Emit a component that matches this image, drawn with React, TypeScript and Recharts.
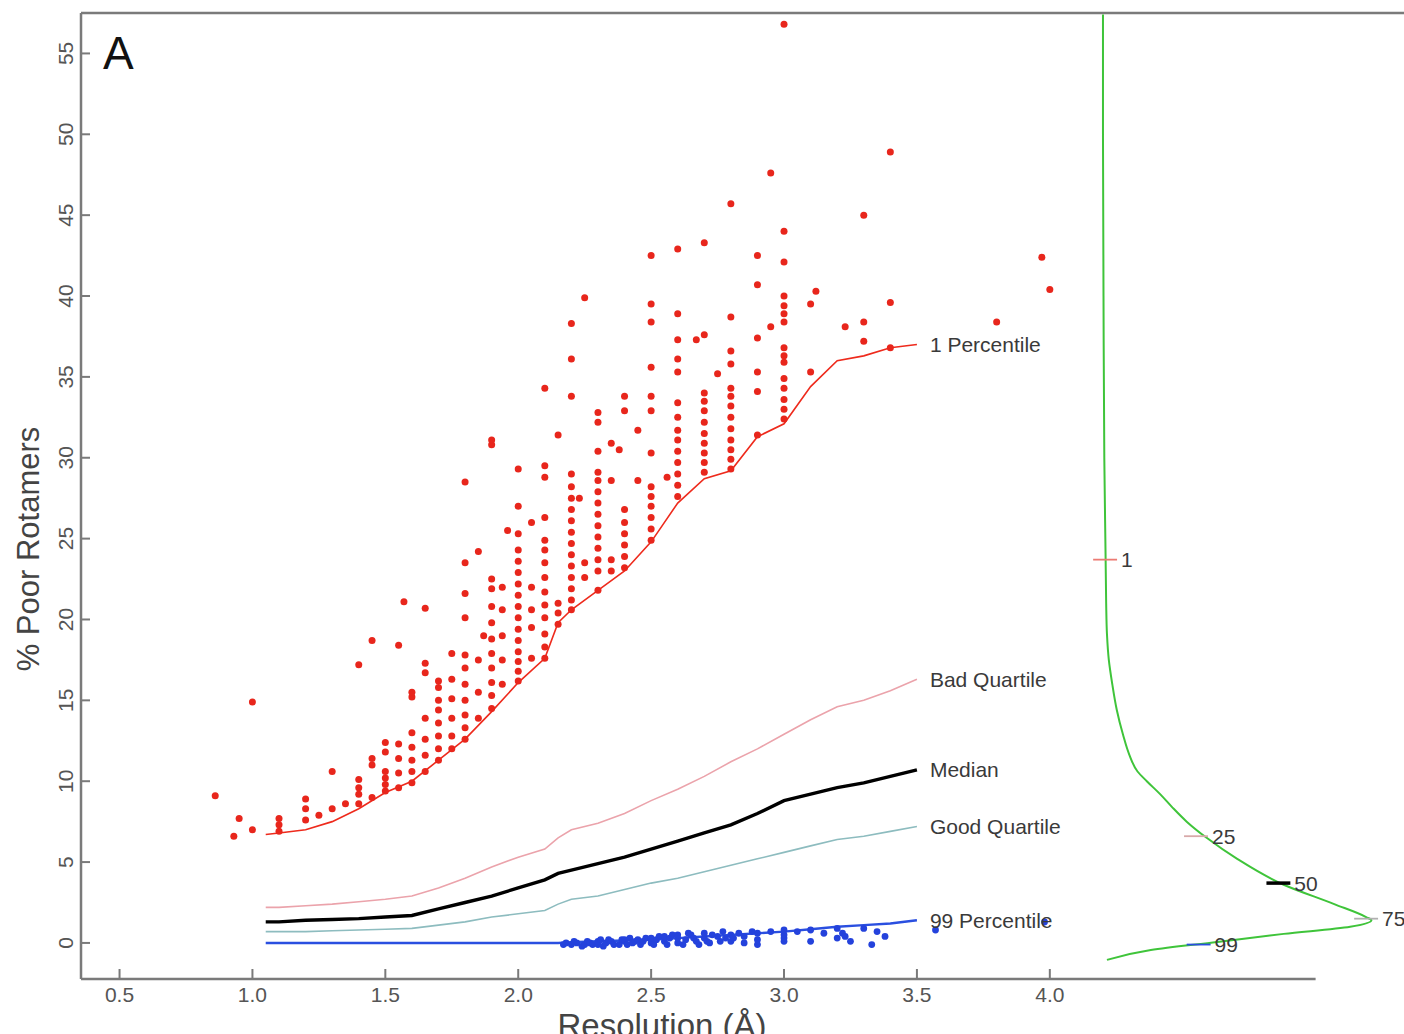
import React from "react"
import { ComposedChart, XAxis, YAxis, Scatter, Line, ReferenceLine, LabelList } from "recharts"

// axis ranges and ticks
const X_MIN = 0.355
const X_MAX = 5.468
const Y_MIN = -2.23
const Y_MAX = 57.5
const xTicks = [0.5, 1.0, 1.5, 2.0, 2.5, 3.0, 3.5, 4.0]
const yTicks = [0, 5, 10, 15, 20, 25, 30, 35, 40, 45, 50, 55]

// percentile curves vs resolution
const resolution = [1.05, 1.1, 1.2, 1.3, 1.4, 1.5, 1.6, 1.7, 1.8, 1.9, 2.0, 2.1, 2.15, 2.2, 2.3, 2.4, 2.5, 2.6, 2.7, 2.8, 2.9, 3.0, 3.1, 3.2, 3.3, 3.4, 3.5]
const pct1 = [6.7, 6.8, 7.0, 7.5, 8.3, 9.3, 10.0, 11.3, 12.6, 14.3, 16.1, 17.6, 19.8, 20.6, 21.8, 23.0, 24.8, 27.2, 28.7, 29.2, 31.3, 32.1, 34.4, 36.0, 36.3, 36.8, 37.0]
const badQuartile = [2.2, 2.2, 2.3, 2.4, 2.55, 2.7, 2.9, 3.4, 4.0, 4.7, 5.3, 5.8, 6.5, 7.0, 7.4, 8.0, 8.8, 9.5, 10.3, 11.2, 12.0, 12.9, 13.8, 14.6, 15.0, 15.6, 16.3]
const median = [1.3, 1.3, 1.4, 1.45, 1.5, 1.6, 1.7, 2.1, 2.5, 2.9, 3.4, 3.9, 4.3, 4.5, 4.9, 5.3, 5.8, 6.3, 6.8, 7.3, 8.0, 8.8, 9.2, 9.6, 9.9, 10.3, 10.7]
const goodQuartile = [0.7, 0.7, 0.7, 0.75, 0.8, 0.85, 0.9, 1.1, 1.3, 1.6, 1.8, 2.0, 2.4, 2.7, 2.9, 3.3, 3.7, 4.0, 4.4, 4.8, 5.2, 5.6, 6.0, 6.4, 6.6, 6.9, 7.2]
const pct99 = [0, 0, 0, 0, 0, 0, 0, 0, 0, 0, 0, 0, 0, 0.05, 0.1, 0.15, 0.2, 0.3, 0.4, 0.5, 0.6, 0.7, 0.85, 1.0, 1.1, 1.2, 1.4]

// structures worse than the 1st percentile
const poorOutliers: [number, number][] = [
  [0.86, 9.1], [0.93, 6.6], [0.95, 7.7], [1.0, 7.0], [1.0, 14.9],
  [1.1, 6.9], [1.1, 7.3], [1.1, 7.7],
  [1.2, 7.6], [1.2, 8.3], [1.2, 8.9],
  [1.25, 7.9], [1.3, 8.3], [1.3, 10.6], [1.35, 8.6],
  [1.4, 8.6], [1.4, 9.2], [1.4, 9.6], [1.4, 10.1], [1.4, 17.2],
  [1.45, 9.0], [1.45, 11.0], [1.45, 11.4], [1.45, 18.7],
  [1.5, 9.4], [1.5, 9.8], [1.5, 10.2], [1.5, 10.6], [1.5, 11.8], [1.5, 12.4],
  [1.55, 9.6], [1.55, 10.5], [1.55, 11.4], [1.55, 12.3], [1.55, 18.4], [1.57, 21.1],
  [1.6, 9.9], [1.6, 10.6], [1.6, 11.3], [1.6, 12.1], [1.6, 13.0], [1.6, 15.2], [1.6, 15.5],
  [1.65, 10.6], [1.65, 11.6], [1.65, 12.6], [1.65, 13.9], [1.65, 16.7], [1.65, 17.3], [1.65, 20.7],
  [1.7, 11.3], [1.7, 12.0], [1.7, 12.8], [1.7, 13.6], [1.7, 14.4], [1.7, 15.0], [1.7, 15.8], [1.7, 16.2],
  [1.75, 12.0], [1.75, 12.8], [1.75, 13.9], [1.75, 15.1], [1.75, 16.3], [1.75, 17.9],
  [1.8, 12.6], [1.8, 13.3], [1.8, 14.1], [1.8, 15.0], [1.8, 16.0], [1.8, 17.0], [1.8, 17.8], [1.8, 20.1], [1.8, 21.6], [1.8, 23.5], [1.8, 28.5],
  [1.85, 13.9], [1.85, 15.5], [1.85, 17.5], [1.85, 24.2], [1.87, 19.0],
  [1.9, 14.5], [1.9, 15.3], [1.9, 16.1], [1.9, 17.0], [1.9, 17.9], [1.9, 18.8], [1.9, 19.8], [1.9, 20.8], [1.9, 21.9], [1.9, 22.5], [1.9, 30.8], [1.9, 31.1],
  [1.94, 16.0], [1.94, 17.5], [1.94, 19.0], [1.94, 20.6], [1.94, 22.0], [1.96, 25.5],
  [2.0, 16.2], [2.0, 16.8], [2.0, 17.4], [2.0, 18.0], [2.0, 18.7], [2.0, 19.4], [2.0, 20.1], [2.0, 20.8], [2.0, 21.5], [2.0, 22.2], [2.0, 22.9], [2.0, 23.6], [2.0, 24.3], [2.0, 25.3], [2.0, 27.0], [2.0, 29.3],
  [2.05, 17.6], [2.05, 19.5], [2.05, 20.6], [2.05, 22.0], [2.05, 26.0],
  [2.1, 17.6], [2.1, 18.3], [2.1, 19.1], [2.1, 20.1], [2.1, 20.9], [2.1, 21.7], [2.1, 22.6], [2.1, 23.5], [2.1, 24.3], [2.1, 24.9], [2.1, 26.3], [2.1, 28.8], [2.1, 29.5], [2.1, 34.3],
  [2.15, 19.7], [2.15, 20.4], [2.15, 21.0], [2.15, 31.4],
  [2.2, 20.6], [2.2, 21.2], [2.2, 21.9], [2.2, 22.6], [2.2, 23.3], [2.2, 24.0], [2.2, 24.7], [2.2, 25.4], [2.2, 26.1], [2.2, 26.8], [2.2, 27.5], [2.2, 28.2], [2.2, 29.0], [2.2, 33.8], [2.2, 36.1], [2.2, 38.3],
  [2.23, 27.5], [2.25, 22.6], [2.25, 23.5], [2.25, 39.9],
  [2.3, 21.8], [2.3, 23.0], [2.3, 23.7], [2.3, 24.4], [2.3, 25.1], [2.3, 25.8], [2.3, 26.5], [2.3, 27.2], [2.3, 27.9], [2.3, 28.6], [2.3, 29.1], [2.3, 30.4], [2.3, 32.2], [2.3, 32.8],
  [2.35, 23.0], [2.35, 23.7], [2.35, 28.6], [2.35, 30.9], [2.38, 30.5],
  [2.4, 23.2], [2.4, 23.9], [2.4, 24.6], [2.4, 25.3], [2.4, 26.0], [2.4, 26.8], [2.4, 32.9], [2.4, 33.8],
  [2.45, 28.6], [2.45, 31.7],
  [2.5, 24.9], [2.5, 25.6], [2.5, 26.3], [2.5, 27.0], [2.5, 27.6], [2.5, 28.2], [2.5, 30.3], [2.5, 32.9], [2.5, 33.8], [2.5, 35.6], [2.5, 38.4], [2.5, 39.5], [2.5, 42.5],
  [2.56, 28.8],
  [2.6, 27.6], [2.6, 28.3], [2.6, 29.0], [2.6, 29.7], [2.6, 30.4], [2.6, 31.1], [2.6, 31.7], [2.6, 32.5], [2.6, 33.4], [2.6, 35.3], [2.6, 36.1], [2.6, 37.3], [2.6, 38.9], [2.6, 42.9],
  [2.67, 37.3],
  [2.7, 29.1], [2.7, 29.7], [2.7, 30.3], [2.7, 30.9], [2.7, 31.5], [2.7, 32.2], [2.7, 32.9], [2.7, 33.5], [2.7, 34.0], [2.7, 37.6], [2.7, 43.3],
  [2.75, 35.2],
  [2.8, 29.3], [2.8, 29.9], [2.8, 30.5], [2.8, 31.1], [2.8, 31.8], [2.8, 32.5], [2.8, 33.2], [2.8, 33.8], [2.8, 34.3], [2.8, 35.8], [2.8, 36.6], [2.8, 38.7], [2.8, 45.7],
  [2.9, 31.4], [2.9, 34.1], [2.9, 35.3], [2.9, 37.4], [2.9, 40.7], [2.9, 42.5],
  [2.95, 38.1], [2.95, 47.6],
  [3.0, 32.4], [3.0, 33.0], [3.0, 33.6], [3.0, 34.3], [3.0, 34.9], [3.0, 35.9], [3.0, 36.3], [3.0, 36.8], [3.0, 38.4], [3.0, 38.9], [3.0, 39.4], [3.0, 40.0], [3.0, 42.1], [3.0, 44.0], [3.0, 56.8],
  [3.1, 35.3], [3.1, 39.5], [3.12, 40.3],
  [3.23, 38.1], [3.3, 37.2], [3.3, 38.4], [3.3, 45.0],
  [3.4, 36.8], [3.4, 39.6], [3.4, 48.9],
  [3.8, 38.4], [3.97, 42.4], [4.0, 40.4],
]

// structures better than the 99th percentile
const goodOutliers: [number, number][] = [
  [2.17, -0.1], [2.18, 0.0], [2.2, -0.1], [2.21, 0.1], [2.22, 0.0], [2.24, -0.2], [2.25, -0.1], [2.26, 0.1],
  [2.27, 0.0], [2.28, -0.1], [2.3, -0.1], [2.3, 0.1], [2.31, 0.2], [2.32, -0.2], [2.33, 0.0], [2.34, 0.2],
  [2.35, 0.1], [2.36, -0.1], [2.38, -0.1], [2.39, 0.2], [2.4, 0.1], [2.4, 0.2], [2.41, -0.1], [2.42, 0.3],
  [2.43, 0.0], [2.44, 0.1], [2.45, 0.2], [2.46, -0.1], [2.47, 0.1], [2.48, 0.3], [2.5, 0.0], [2.5, 0.3],
  [2.51, -0.1], [2.52, 0.2], [2.53, 0.4], [2.55, 0.1], [2.55, 0.4], [2.56, -0.1], [2.57, 0.3], [2.58, 0.5],
  [2.6, 0.0], [2.6, 0.3], [2.6, 0.5], [2.62, -0.1], [2.63, 0.2], [2.64, 0.6], [2.65, 0.5], [2.66, 0.3],
  [2.67, 0.1], [2.68, -0.1], [2.7, 0.3], [2.7, 0.6], [2.71, 0.1], [2.72, 0.0], [2.73, 0.5], [2.75, 0.4],
  [2.76, 0.1], [2.77, 0.7], [2.78, 0.3], [2.8, 0.1], [2.8, 0.5], [2.81, 0.3], [2.83, 0.6], [2.85, 0.0],
  [2.85, 0.4], [2.88, 0.7], [2.9, 0.6], [2.9, -0.1], [2.9, 0.2], [2.95, 0.7], [3.0, 0.1], [3.0, 0.3],
  [3.0, 0.5], [3.0, 0.8], [3.05, 0.7], [3.1, 0.1], [3.1, 0.8], [3.15, 0.6], [3.2, 0.9], [3.2, 0.3],
  [3.22, 0.6], [3.23, 0.4], [3.25, 0.1], [3.3, 0.9], [3.33, -0.1], [3.35, 0.7], [3.38, 0.4], [3.57, 0.8],
  [3.98, 1.3],
]

// distribution of % poor rotamers, drawn sideways from x = DENSITY_BASE
const DENSITY_BASE = 4.2
const densityLevel = [-1.05, -0.43, 0.06, 0.56, 1.0, 1.4, 1.6, 2.4, 3.6, 5.2, 6.5, 7.5, 8.4, 9.2, 10.0, 10.6, 11.6, 12.9, 14.4, 16.0, 17.5, 19.1, 21.0, 23.7, 30, 40, 50, 57.4]
const densityWidth = [0.015, 0.18, 0.43, 0.68, 0.93, 1.01, 0.99, 0.87, 0.68, 0.505, 0.39, 0.315, 0.26, 0.215, 0.165, 0.13, 0.1, 0.075, 0.052, 0.035, 0.022, 0.015, 0.012, 0.01, 0.005, 0.002, 0, 0]

// percentile markers on the distribution
const markerLabels = ["1", "25", "50", "75", "99"]
const markerValues = [23.7, 6.6, 3.7, 1.5, -0.1]
const markerWidths = [0.008, 0.35, 0.66, 0.99, 0.36]
const markerColors = ["#ec7b74", "#d8a9a9", "#000000", "#b0b0b0", "#2a4fe0"]

const FONT = "'Liberation Sans', Arial, sans-serif"
const PLOT_LEFT = 81
const PLOT_BOTTOM = 979
const AXIS = "#7a7a7a"

const toPoints = (ys: number[]) => resolution.map((x, i) => ({ x, y: ys[i] }))
const curves = [
  { name: "1 Percentile", data: toPoints(pct1), color: "#ee2a1c", width: 1.6 },
  { name: "Bad Quartile", data: toPoints(badQuartile), color: "#eba3ab", width: 1.6 },
  { name: "Median", data: toPoints(median), color: "#000000", width: 3.4 },
  { name: "Good Quartile", data: toPoints(goodQuartile), color: "#8dbcbf", width: 1.6 },
  { name: "99 Percentile", data: toPoints(pct99), color: "#2a4fe0", width: 2.4 },
]
const redPoints = poorOutliers.map(([x, y]) => ({ x, y }))
const bluePoints = goodOutliers.map(([x, y]) => ({ x, y }))
const densityPoints = densityLevel.map((y, i) => ({ x: DENSITY_BASE + densityWidth[i], y }))

function XTick(props: any) {
  const { x, payload } = props
  return (
    <g>
      <line x1={x} x2={x} y1={PLOT_BOTTOM} y2={PLOT_BOTTOM - 10} stroke={AXIS} strokeWidth={2} />
      <text x={x} y={1002} textAnchor="middle" fontSize={21} fill="#555" fontFamily={FONT}>
        {Number(payload.value).toFixed(1)}
      </text>
    </g>
  )
}

function YTick(props: any) {
  const { y, payload } = props
  return (
    <g>
      <line x1={PLOT_LEFT} x2={PLOT_LEFT + 9} y1={y} y2={y} stroke={AXIS} strokeWidth={2} />
      <text
        transform={`translate(66 ${y}) rotate(-90)`}
        textAnchor="middle"
        dy="0.35em"
        fontSize={21}
        fill="#555"
        fontFamily={FONT}
      >
        {payload.value}
      </text>
    </g>
  )
}

function Dot(color: string, r: number) {
  return (props: any) => <circle cx={props.cx} cy={props.cy} r={r} fill={color} />
}

function endLabel(text: string, count: number) {
  return (props: any) =>
    props.index === count - 1 ? (
      <text x={props.x + 13} y={props.y} dy="0.35em" fontSize={21} fill="#3a3a3a" fontFamily={FONT}>
        {text}
      </text>
    ) : null
}

export default function App() {
  return (
    <div
      style={{
        position: "absolute",
        left: 0,
        top: 0,
        width: 1404,
        height: 1034,
        overflow: "hidden",
        background: "#ffffff",
      }}
    >
      <ComposedChart width={1440} height={1034} margin={{ top: 13, right: 0, bottom: 0, left: 0 }}>
        <XAxis
          type="number"
          dataKey="x"
          domain={[X_MIN, X_MAX]}
          allowDataOverflow
          ticks={xTicks}
          tick={<XTick />}
          tickLine={false}
          axisLine={false}
          height={55}
        />
        <YAxis
          type="number"
          dataKey="y"
          domain={[Y_MIN, Y_MAX]}
          allowDataOverflow
          ticks={yTicks}
          tick={<YTick />}
          tickLine={false}
          axisLine={{ stroke: AXIS, strokeWidth: 2.5 }}
          width={81}
        />
        <ReferenceLine y={Y_MAX} stroke={AXIS} strokeWidth={2.5} />
        <ReferenceLine
          segment={[{ x: X_MIN, y: Y_MIN }, { x: 5.0, y: Y_MIN }]}
          stroke={AXIS}
          strokeWidth={2.5}
        />

        {curves.map((c) => (
          <Line
            key={c.name}
            data={c.data}
            dataKey="y"
            type="linear"
            stroke={c.color}
            strokeWidth={c.width}
            dot={false}
            activeDot={false}
            isAnimationActive={false}
          >
            <LabelList dataKey="y" content={endLabel(c.name, c.data.length)} />
          </Line>
        ))}

        <Scatter data={redPoints} shape={Dot("#e8261c", 3.5)} isAnimationActive={false} />
        <Scatter data={bluePoints} shape={Dot("#2442dc", 3.4)} isAnimationActive={false} />

        <Line
          data={densityPoints}
          dataKey="y"
          type="monotoneY"
          stroke="#3fc43a"
          strokeWidth={2}
          dot={false}
          activeDot={false}
          isAnimationActive={false}
        />

        {markerLabels.map((label, i) => (
          <ReferenceLine
            key={label}
            segment={[
              { x: DENSITY_BASE + markerWidths[i] - 0.045, y: markerValues[i] },
              { x: DENSITY_BASE + markerWidths[i] + 0.045, y: markerValues[i] },
            ]}
            stroke={markerColors[i]}
            strokeWidth={label === "50" ? 3.5 : 1.8}
            label={{
              value: label,
              position: "right",
              offset: 4,
              fontSize: 21,
              fill: "#3a3a3a",
              fontFamily: FONT,
            }}
          />
        ))}
      </ComposedChart>

      <svg
        width={1404}
        height={1034}
        style={{ position: "absolute", left: 0, top: 0, pointerEvents: "none" }}
      >
        <text x={103} y={69} fontSize={46} fill="#111" fontFamily={FONT}>
          A
        </text>
        <text
          transform="translate(39 549) rotate(-90)"
          textAnchor="middle"
          fontSize={31}
          fill="#444"
          fontFamily={FONT}
        >
          % Poor Rotamers
        </text>
        <text x={662} y={1037} textAnchor="middle" fontSize={33} fill="#444" fontFamily={FONT}>
          Resolution (Å)
        </text>
      </svg>
    </div>
  )
}
